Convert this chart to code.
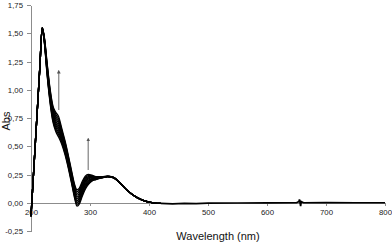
<!DOCTYPE html>
<html>
<head>
<meta charset="utf-8">
<script src="https://cdn.jsdelivr.net/npm/d3@7"></script>
<style>
  body { margin: 0; background: #fff; }
  svg { display: block; font-family: Arial, "Liberation Sans", sans-serif; }
  .axis path, .axis line { stroke: #8c8c8c; stroke-width: 1; shape-rendering: crispEdges; }
  .axis text { font-size: 7.8px; fill: #222; }
  .scan { fill: none; stroke: #000; stroke-width: 1.35; }
  .tail { fill: none; stroke: #000; stroke-width: 1.7; }
  .arrow { stroke: #8a8a8a; stroke-width: 1.3; }
</style>
</head>
<body>
<div id="chart"></div>
<script>
// wavelength grid (nm) shared by all scans
var wavelengths = [200, 205, 210, 215, 219, 223, 227, 232, 237, 242, 247, 252, 258, 264, 270, 274, 278, 282, 287, 292, 297, 303, 310, 320, 330, 340, 350, 360, 370, 380, 390, 400, 410, 420];

// absorbance of each successive scan
var scan1 = [-0.12, 0.32, 0.76, 1.20, 1.55, 1.400, 1.150, 0.900, 0.720, 0.630, 0.580, 0.520, 0.420, 0.290, 0.140, 0.040, -0.030, -0.010, 0.060, 0.120, 0.160, 0.190, 0.205, 0.220, 0.230, 0.220, 0.18, 0.125, 0.08, 0.045, 0.02, 0.005, -0.003, -0.005];
var scan2 = [-0.12, 0.32, 0.76, 1.20, 1.55, 1.406, 1.161, 0.913, 0.736, 0.649, 0.600, 0.536, 0.433, 0.302, 0.152, 0.053, -0.014, 0.006, 0.074, 0.133, 0.170, 0.196, 0.208, 0.221, 0.231, 0.221, 0.18, 0.125, 0.08, 0.045, 0.02, 0.005, -0.003, -0.005];
var scan3 = [-0.12, 0.32, 0.76, 1.20, 1.55, 1.411, 1.172, 0.927, 0.751, 0.668, 0.620, 0.551, 0.447, 0.314, 0.164, 0.067, 0.002, 0.021, 0.089, 0.146, 0.180, 0.202, 0.211, 0.222, 0.231, 0.221, 0.18, 0.125, 0.08, 0.045, 0.02, 0.005, -0.003, -0.005];
var scan4 = [-0.12, 0.32, 0.76, 1.20, 1.55, 1.417, 1.183, 0.940, 0.767, 0.687, 0.640, 0.567, 0.460, 0.327, 0.177, 0.080, 0.018, 0.037, 0.103, 0.158, 0.190, 0.208, 0.213, 0.223, 0.232, 0.222, 0.18, 0.125, 0.08, 0.045, 0.02, 0.005, -0.003, -0.005];
var scan5 = [-0.12, 0.32, 0.76, 1.20, 1.55, 1.422, 1.194, 0.953, 0.782, 0.706, 0.660, 0.582, 0.473, 0.339, 0.189, 0.093, 0.034, 0.052, 0.118, 0.171, 0.200, 0.214, 0.216, 0.224, 0.232, 0.222, 0.18, 0.125, 0.08, 0.045, 0.02, 0.005, -0.003, -0.005];
var scan6 = [-0.12, 0.32, 0.76, 1.20, 1.55, 1.428, 1.206, 0.967, 0.798, 0.724, 0.680, 0.598, 0.487, 0.351, 0.201, 0.107, 0.051, 0.068, 0.132, 0.184, 0.210, 0.221, 0.219, 0.226, 0.233, 0.223, 0.18, 0.125, 0.08, 0.045, 0.02, 0.005, -0.003, -0.005];
var scan7 = [-0.12, 0.32, 0.76, 1.20, 1.55, 1.433, 1.217, 0.980, 0.813, 0.743, 0.700, 0.613, 0.500, 0.363, 0.213, 0.120, 0.067, 0.083, 0.147, 0.197, 0.220, 0.227, 0.222, 0.227, 0.233, 0.223, 0.18, 0.125, 0.08, 0.045, 0.02, 0.005, -0.003, -0.005];
var scan8 = [-0.12, 0.32, 0.76, 1.20, 1.55, 1.439, 1.228, 0.993, 0.829, 0.762, 0.720, 0.629, 0.513, 0.376, 0.226, 0.133, 0.083, 0.099, 0.161, 0.209, 0.230, 0.233, 0.224, 0.228, 0.234, 0.224, 0.18, 0.125, 0.08, 0.045, 0.02, 0.005, -0.003, -0.005];
var scan9 = [-0.12, 0.32, 0.76, 1.20, 1.55, 1.444, 1.239, 1.007, 0.844, 0.781, 0.740, 0.644, 0.527, 0.388, 0.238, 0.147, 0.099, 0.114, 0.176, 0.222, 0.240, 0.239, 0.227, 0.229, 0.234, 0.224, 0.18, 0.125, 0.08, 0.045, 0.02, 0.005, -0.003, -0.005];
var scan10 = [-0.12, 0.32, 0.76, 1.20, 1.55, 1.450, 1.250, 1.020, 0.860, 0.800, 0.760, 0.660, 0.540, 0.400, 0.250, 0.160, 0.115, 0.130, 0.190, 0.235, 0.250, 0.245, 0.230, 0.230, 0.235, 0.225, 0.18, 0.125, 0.08, 0.045, 0.02, 0.005, -0.003, -0.005];
var scans = [scan1, scan2, scan3, scan4, scan5, scan6, scan7, scan8, scan9, scan10];

// flat visible region, all scans overlap here
var tailWavelengths = [420, 440, 460, 480, 500, 550, 600, 650, 654, 655, 657, 658, 662, 700, 750, 800];
var tailAbs = [-0.005, -0.01, -0.006, -0.008, -0.004, -0.002, -0.001, 0, 0.01, 0.03, -0.03, 0.01, 0, 0.001, 0, 0];

// arrows showing the change over time
var arrowWavelengths = [247, 297];
var arrowFrom = [0.82, 0.29];
var arrowTo = [1.16, 0.56];

var xTicks = [200, 300, 400, 500, 600, 700, 800];
var yTicks = [-0.25, 0, 0.25, 0.5, 0.75, 1, 1.25, 1.5, 1.75];

var width = 392,
  height = 252;

var svg = d3
  .select("#chart")
  .append("svg")
  .attr("width", width)
  .attr("height", height);

var x = d3
  .scaleLinear()
  .domain([200, 800])
  .range([31, 385]);

var y = d3
  .scaleLinear()
  .domain([-0.25, 1.75])
  .range([231, 5]);

var comma = function(d) {
  return d3.format(".2f")(d).replace(".", ",").replace("−", "-");
};

svg
  .append("g")
  .attr("class", "axis y-axis")
  .attr("transform", "translate(" + x(200) + ",0)")
  .call(
    d3
      .axisLeft(y)
      .tickValues(yTicks)
      .tickSize(4)
      .tickSizeOuter(0)
      .tickPadding(4)
      .tickFormat(comma)
  );

svg
  .append("g")
  .attr("class", "axis x-axis")
  .attr("transform", "translate(0," + y(0) + ")")
  .call(
    d3
      .axisBottom(x)
      .tickValues(xTicks)
      .tickSize(3)
      .tickSizeOuter(0)
      .tickPadding(4)
      .tickFormat(d3.format("d"))
  );

var line = d3
  .line()
  .x(function(d, i) {
    return x(wavelengths[i]);
  })
  .y(function(d) {
    return y(d);
  })
  .curve(d3.curveMonotoneX);

svg
  .append("g")
  .attr("class", "scans")
  .selectAll(".scan")
  .data(scans)
  .enter()
  .append("path")
  .attr("class", "scan")
  .attr("d", line);

var tailLine = d3
  .line()
  .x(function(d, i) {
    return x(tailWavelengths[i]);
  })
  .y(function(d) {
    return y(d);
  });

svg
  .append("path")
  .attr("class", "tail")
  .attr("d", tailLine(tailAbs));

svg
  .append("defs")
  .append("marker")
  .attr("id", "head")
  .attr("viewBox", "0 0 6 6")
  .attr("refX", 3)
  .attr("refY", 3)
  .attr("markerWidth", 3)
  .attr("markerHeight", 3)
  .attr("orient", "auto")
  .append("path")
  .attr("d", "M0,0L6,3L0,6Z")
  .attr("fill", "#555");

svg
  .append("g")
  .attr("class", "arrows")
  .selectAll(".arrow")
  .data(arrowWavelengths)
  .enter()
  .append("line")
  .attr("class", "arrow")
  .attr("x1", function(d) {
    return x(d);
  })
  .attr("x2", function(d) {
    return x(d);
  })
  .attr("y1", function(d, i) {
    return y(arrowFrom[i]);
  })
  .attr("y2", function(d, i) {
    return y(arrowTo[i]);
  })
  .attr("marker-end", "url(#head)");

svg
  .append("text")
  .attr("x", 218)
  .attr("y", 240)
  .attr("text-anchor", "middle")
  .attr("font-size", 11)
  .attr("fill", "#111")
  .text("Wavelength (nm)");

svg
  .append("text")
  .attr("transform", "translate(10,121) rotate(-90)")
  .attr("text-anchor", "middle")
  .attr("font-size", 11)
  .attr("fill", "#111")
  .text("Abs");
</script>
</body>
</html>
